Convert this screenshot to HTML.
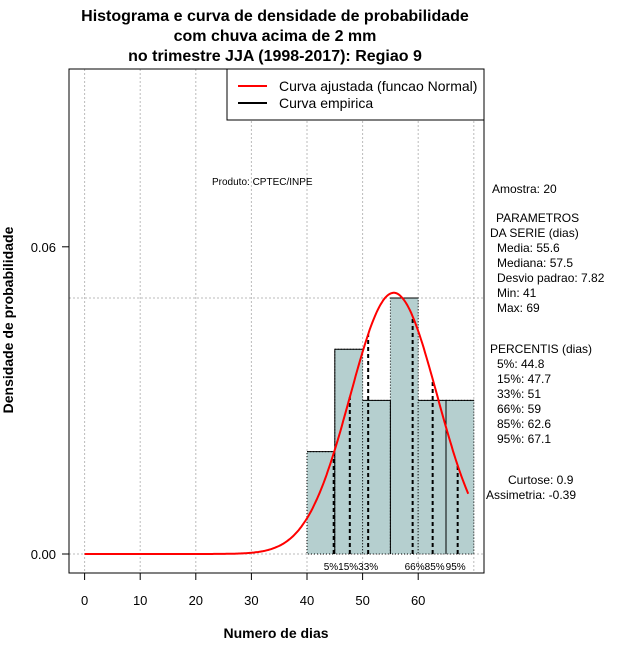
<!DOCTYPE html>
<html><head><meta charset="utf-8"><style>
body{margin:0;background:#fff}
svg{font-family:"Liberation Sans",sans-serif}
</style></head><body>
<svg width="640" height="660" xmlns="http://www.w3.org/2000/svg">
<g font-weight="bold" font-size="16" text-anchor="middle">
<text x="275" y="21">Histograma e curva de densidade de probabilidade</text>
<text x="275" y="41">com chuva acima de 2 mm</text>
<text x="275" y="61">no trimestre JJA (1998-2017): Regiao 9</text>
</g>
<g id="grid"></g>
<g id="bars"></g>
<g id="pct"></g>
<path id="curve" fill="none" stroke="#f00" stroke-width="2"/>
<rect x="69" y="69" width="415" height="504" fill="none" stroke="#000"/>
<g id="axes" font-size="13"></g>
<text x="276" y="638" font-weight="bold" font-size="14" text-anchor="middle">Numero de dias</text>
<text transform="translate(13,320) rotate(-90)" font-weight="bold" font-size="14" text-anchor="middle">Densidade de probabilidade</text>
<g>
<rect x="227" y="69" width="257" height="51" fill="#fff" stroke="#000"/>
<line x1="238" y1="86" x2="267" y2="86" stroke="#f00" stroke-width="2"/>
<line x1="238" y1="103" x2="267" y2="103" stroke="#000" stroke-width="2"/>
<text x="279" y="91" font-size="14">Curva ajustada (funcao Normal)</text>
<text x="279" y="108" font-size="14">Curva empirica</text>
</g>
<text x="212" y="185" font-size="10">Produto: CPTEC/INPE</text>
<g font-size="12">
<text x="492" y="193">Amostra: 20</text>
<text x="496" y="222">PARAMETROS</text>
<text x="490" y="237">DA SERIE (dias)</text>
<text x="497" y="252">Media: 55.6</text>
<text x="497" y="267">Mediana: 57.5</text>
<text x="497" y="282">Desvio padrao: 7.82</text>
<text x="497" y="297">Min: 41</text>
<text x="497" y="312">Max: 69</text>
<text x="490" y="353">PERCENTIS (dias)</text>
<text x="497" y="368">5%: 44.8</text>
<text x="497" y="383">15%: 47.7</text>
<text x="497" y="398">33%: 51</text>
<text x="497" y="413">66%: 59</text>
<text x="497" y="428">85%: 62.6</text>
<text x="497" y="443">95%: 67.1</text>
<text x="508" y="484">Curtose: 0.9</text>
<text x="486" y="499">Assimetria: -0.39</text>
</g>
<script>
const binStarts=[40,45,50,55,60,65];
const densities=[0.02,0.04,0.03,0.05,0.03,0.03];
const pctValues=[44.8,47.7,51,59,62.6,67.1];
const pctLabels=["5%","15%","33%","66%","85%","95%"];
const xTicks=[0,10,20,30,40,50,60];
const yTicks=[0,0.06];
const mean=55.6, sd=7.82, binW=5;
const NS="http://www.w3.org/2000/svg";
const X=v=>84.6+v*5.56, Y=v=>554-v*5120;
function mk(t,a,p){const e=document.createElementNS(NS,t);for(const k in a)e.setAttribute(k,a[k]);p.appendChild(e);return e;}
const dn=x=>Math.exp(-0.5*((x-mean)/sd)**2)/(sd*Math.sqrt(2*Math.PI));
const g=document.getElementById('grid');
for(let k=0;k<=7;k++){const l=mk('line',{x1:X(k*10),x2:X(k*10),y1:69,y2:573,stroke:'#bbb','stroke-dasharray':'2,2'},g);

}
[0,0.05].forEach(v=>{const l=mk('line',{x1:69,x2:484,y1:Y(v),y2:Y(v),stroke:'#bbb','stroke-dasharray':'2,2'},g);

});
const b=document.getElementById('bars');
binStarts.forEach((s,i)=>{
const r=mk('rect',{x:X(s),y:Y(densities[i]),width:X(s+binW)-X(s),height:Y(0)-Y(densities[i]),fill:'#b5cfcf',stroke:'#000','stroke-dasharray':'1,2'},b);


mk('line',{x1:X(s),x2:X(s+binW),y1:Y(densities[i]),y2:Y(densities[i]),stroke:'#000'},b);
if(i%2==1){mk('line',{x1:X(s),x2:X(s),y1:Y(0),y2:Y(Math.max(densities[i-1],i==1?densities[i]:densities[i-1])),stroke:'#000'},b);}
});
const p=document.getElementById('pct');
pctValues.forEach((v,i)=>{
const l=mk('line',{x1:X(v),x2:X(v),y1:Y(0),y2:Y(dn(v)),stroke:'#000','stroke-width':2,'stroke-dasharray':'4,3'},p);


});
const labs=[[X(44.8)-10,"5%15%33%"],[X(59)-8,"66%85%"],[X(67.1)-12,"95%"]];
labs.forEach(a=>{const t=mk('text',{x:a[0],y:570,'font-size':10},p);t.textContent=a[1];

});
let d='';for(let x=0;x<=69;x+=0.25){d+=(x?'L':'M')+X(x).toFixed(1)+','+Y(dn(x)).toFixed(1);}
document.getElementById('curve').setAttribute('d',d);
const ax=document.getElementById('axes');
mk('line',{x1:X(0),x2:X(60),y1:573,y2:573,stroke:'#000'},ax);
xTicks.forEach(v=>{mk('line',{x1:X(v),x2:X(v),y1:573,y2:580,stroke:'#000'},ax);
const t=mk('text',{x:X(v),y:605,'text-anchor':'middle'},ax);t.textContent=v;

});
mk('line',{x1:69,x2:69,y1:Y(0),y2:Y(0.06),stroke:'#000'},ax);
yTicks.forEach(v=>{mk('line',{x1:62,x2:69,y1:Y(v),y2:Y(v),stroke:'#000'},ax);
const t=mk('text',{x:56,y:Y(v)+5,'text-anchor':'end'},ax);t.textContent=v.toFixed(2);

});
</script>
</svg>
</body></html>
